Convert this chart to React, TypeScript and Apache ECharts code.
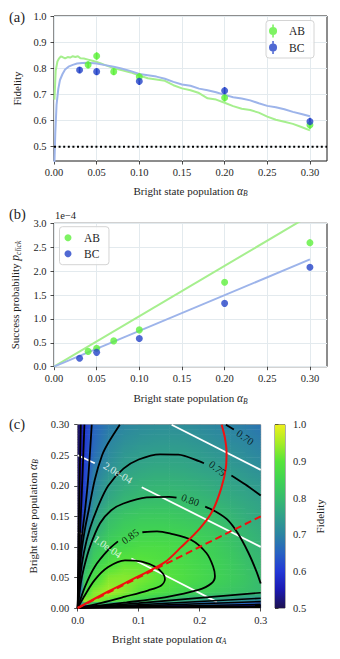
import React, { useEffect, useRef } from 'react';
import * as echarts from 'echarts';

// ---------------- data: panel (a) ----------------
const ALPHA_TICKS = [0, 0.05, 0.1, 0.15, 0.2, 0.25, 0.3];
const FID_TICKS = [0.5, 0.6, 0.7, 0.8, 0.9, 1.0];
const AB_ALPHA = [0.04, 0.05, 0.07, 0.1, 0.2, 0.3];
const AB_FID = [0.813, 0.847, 0.787, 0.767, 0.687, 0.583];
const AB_FID_ERR = [0.013, 0.014, 0.013, 0.014, 0.014, 0.015];
const BC_ALPHA = [0.03, 0.05, 0.1, 0.2, 0.3];
const BC_FID = [0.793, 0.787, 0.75, 0.714, 0.596];
const BC_FID_ERR = [0.012, 0.013, 0.014, 0.014, 0.015];
const AB_THEORY_X = [0.0005, 0.002, 0.004, 0.006, 0.008, 0.01, 0.013, 0.016, 0.019, 0.022, 0.025, 0.028, 0.031, 0.035, 0.04, 0.045, 0.05, 0.055, 0.06, 0.065, 0.07, 0.08, 0.09, 0.1, 0.11, 0.12, 0.13, 0.14, 0.15, 0.16, 0.17, 0.18, 0.19, 0.2, 0.21, 0.22, 0.23, 0.24, 0.25, 0.26, 0.27, 0.28, 0.29, 0.3];
const AB_THEORY_F = [0.68, 0.79, 0.826, 0.838, 0.845, 0.843, 0.838, 0.843, 0.841, 0.846, 0.843, 0.846, 0.838, 0.837, 0.833, 0.829, 0.824, 0.818, 0.812, 0.806, 0.8, 0.792, 0.784, 0.772, 0.762, 0.757, 0.752, 0.735, 0.723, 0.716, 0.705, 0.685, 0.68, 0.668, 0.655, 0.645, 0.64, 0.63, 0.615, 0.603, 0.595, 0.587, 0.575, 0.562];
const BC_THEORY_X = [0.0005, 0.0015, 0.003, 0.005, 0.007, 0.01, 0.013, 0.017, 0.022, 0.027, 0.033, 0.04, 0.05, 0.06, 0.07, 0.08, 0.09, 0.1, 0.11, 0.12, 0.13, 0.14, 0.15, 0.16, 0.17, 0.18, 0.19, 0.2, 0.21, 0.22, 0.23, 0.24, 0.25, 0.26, 0.27, 0.28, 0.29, 0.3];
const BC_THEORY_F = [0.44, 0.55, 0.66, 0.72, 0.755, 0.778, 0.795, 0.806, 0.813, 0.818, 0.82, 0.821, 0.818, 0.812, 0.806, 0.798, 0.789, 0.778, 0.773, 0.768, 0.76, 0.748, 0.738, 0.733, 0.722, 0.716, 0.708, 0.698, 0.689, 0.684, 0.677, 0.666, 0.656, 0.651, 0.643, 0.633, 0.625, 0.616];
const CLASSICAL_LIMIT = 0.5;

// ---------------- data: panel (b) (units of 1e-4) ----------------
const PROB_TICKS = [0, 0.5, 1.0, 1.5, 2.0, 2.5, 3.0];
const AB_PROB = [0.32, 0.385, 0.54, 0.77, 1.765, 2.595];
const BC_PROB = [0.175, 0.3, 0.59, 1.325, 2.08];
const FIT_X = [0, 0.3];
const AB_FIT = [0, 3.165];
const BC_FIT = [0, 2.245];

// ---------------- data: panel (c) ----------------
const MAP_TICKS_X = [0, 0.1, 0.2, 0.3];
const MAP_TICKS_Y = [0, 0.05, 0.1, 0.15, 0.2, 0.25, 0.3];
const CBAR_TICKS = [0.5, 0.6, 0.7, 0.8, 0.9, 1.0];
const GRID_A = [0, 0.01, 0.025, 0.05, 0.075, 0.1, 0.125, 0.15, 0.175, 0.2, 0.225, 0.25, 0.275, 0.3];
const GRID_B = [0, 0.01, 0.025, 0.05, 0.075, 0.1, 0.125, 0.15, 0.175, 0.2, 0.225, 0.25, 0.275, 0.3];
// fidelity, one row per alpha_B value, one column per alpha_A value
const FID_MAP = [
  [0.96, 0.5, 0.5, 0.5, 0.5, 0.5, 0.5, 0.5, 0.5, 0.5, 0.5, 0.5, 0.5, 0.5],
  [0.5, 0.95, 0.93, 0.895, 0.86, 0.83, 0.8, 0.775, 0.755, 0.745, 0.73, 0.72, 0.705, 0.695],
  [0.5, 0.87, 0.93, 0.95, 0.93, 0.9, 0.885, 0.87, 0.853, 0.84, 0.83, 0.82, 0.81, 0.8],
  [0.5, 0.815, 0.87, 0.925, 0.93, 0.925, 0.91, 0.895, 0.88, 0.865, 0.85, 0.835, 0.82, 0.8],
  [0.5, 0.775, 0.835, 0.875, 0.903, 0.902, 0.89, 0.88, 0.87, 0.858, 0.845, 0.83, 0.81, 0.795],
  [0.5, 0.735, 0.81, 0.845, 0.865, 0.875, 0.877, 0.872, 0.862, 0.85, 0.837, 0.82, 0.8, 0.785],
  [0.5, 0.69, 0.77, 0.82, 0.84, 0.849, 0.85, 0.848, 0.843, 0.835, 0.823, 0.808, 0.792, 0.778],
  [0.5, 0.64, 0.74, 0.8, 0.82, 0.828, 0.83, 0.828, 0.822, 0.815, 0.805, 0.79, 0.775, 0.762],
  [0.5, 0.62, 0.72, 0.765, 0.79, 0.801, 0.805, 0.805, 0.802, 0.795, 0.785, 0.773, 0.762, 0.753],
  [0.5, 0.61, 0.697, 0.75, 0.77, 0.782, 0.787, 0.787, 0.783, 0.777, 0.768, 0.758, 0.75, 0.74],
  [0.5, 0.605, 0.685, 0.725, 0.752, 0.762, 0.768, 0.768, 0.765, 0.758, 0.752, 0.743, 0.733, 0.722],
  [0.5, 0.6, 0.665, 0.71, 0.735, 0.745, 0.75, 0.751, 0.75, 0.743, 0.735, 0.727, 0.716, 0.705],
  [0.5, 0.595, 0.655, 0.698, 0.718, 0.728, 0.733, 0.735, 0.733, 0.726, 0.717, 0.71, 0.702, 0.69],
  [0.5, 0.595, 0.652, 0.685, 0.702, 0.712, 0.717, 0.718, 0.716, 0.71, 0.703, 0.698, 0.688, 0.676],
];
// fidelity contour lines, [alpha_A, alpha_B] points
const F090 = [[0, 0], [0.01, 0.018], [0.028, 0.046], [0.05, 0.067], [0.0775, 0.078], [0.105, 0.076], [0.128, 0.067], [0.14, 0.056], [0.143, 0.047], [0.137, 0.037], [0.116, 0.029], [0.0775, 0.0185], [0.039, 0.0085], [0, 0]];
const F085_A = [[0, 0], [0.012, 0.035], [0.028, 0.0676], [0.05, 0.095], [0.066, 0.109]];
const F085_B = [[0.106, 0.124], [0.13, 0.1255], [0.151, 0.122], [0.187, 0.111], [0.211, 0.09], [0.222, 0.068], [0.225, 0.052], [0.219, 0.04], [0.198, 0.0295], [0.143, 0.0175], [0.08, 0.0092], [0, 0]];
const F080_A = [[0, 0], [0.005, 0.04], [0.01, 0.065], [0.02, 0.1], [0.0366, 0.1386], [0.055, 0.16], [0.075, 0.171], [0.113, 0.181], [0.15, 0.182], [0.162, 0.1805]];
const F080_B = [[0.209, 0.166], [0.226, 0.158], [0.245, 0.145], [0.262, 0.123], [0.28, 0.09], [0.293, 0.06], [0.3, 0.04]];
const F080_LOW = [[0, 0], [0.1, 0.008], [0.2, 0.0165], [0.3, 0.025]];
const F075_A = [[0, 0], [0.004, 0.05], [0.01, 0.09], [0.02, 0.13], [0.035, 0.17], [0.05, 0.2], [0.075, 0.228], [0.1, 0.243], [0.135, 0.2515], [0.165, 0.251], [0.2, 0.24], [0.207, 0.237]];
const F075_B = [[0.252, 0.217], [0.275, 0.202], [0.3, 0.184]];
const F075_LOW = [[0, 0], [0.1, 0.0053], [0.2, 0.0107], [0.3, 0.016]];
const F070_A = [[0, 0], [0.002, 0.04], [0.006, 0.09], [0.012, 0.13], [0.018, 0.16], [0.028, 0.21], [0.04, 0.25], [0.05, 0.27], [0.069, 0.3]];
const F070_B = [[0.243, 0.3], [0.256, 0.292]];
const F070_LOW = [[0, 0], [0.1, 0.0035], [0.2, 0.007], [0.3, 0.0105]];
const F065_A = [[0, 0], [0.002, 0.06], [0.006, 0.11], [0.012, 0.16], [0.017, 0.21], [0.023, 0.3]];
const F065_LOW = [[0, 0], [0.3, 0.006]];
const F060_A = [[0, 0], [0.002, 0.08], [0.005, 0.15], [0.008, 0.22], [0.011, 0.3]];
const F060_LOW = [[0, 0], [0.3, 0.003]];
const F055_A = [[0, 0], [0.002, 0.15], [0.005, 0.3]];
const F055_LOW = [[0, 0], [0.3, 0.0012]];
const FID_CURVED = [F090, F085_A, F085_B, F080_A, F080_B, F075_A, F075_B, F070_A, F070_B, F065_A, F060_A, F055_A];
const FID_STRAIGHT = [F080_LOW, F075_LOW, F070_LOW, F065_LOW, F060_LOW, F055_LOW];
const FID_LABEL_TEXT = ['0.85', '0.80', '0.75', '0.70'];
const FID_LABEL_AT = [[0.086, 0.117], [0.1845, 0.1765], [0.229, 0.228], [0.2745, 0.279]];
const FID_LABEL_ROT = [35, -20, -38, -35];
// success-probability contour lines
const P3E4 = [[0.154, 0.3], [0.3, 0.226]];
const P2E4_A = [[0, 0.25], [0.028, 0.237]];
const P2E4_B = [[0.105, 0.1976], [0.3, 0.1]];
const P1E4_A = [[0, 0.124], [0.007, 0.121]];
const P1E4_B = [[0.088, 0.081], [0.15, 0.05], [0.228, 0.01]];
const PROB_LINES = [P3E4, P2E4_A, P2E4_B, P1E4_A, P1E4_B];
const PROB_LABEL_TEXT = ['2.0e-04', '1.0e-04'];
const PROB_LABEL_AT = [[0.066, 0.221], [0.049, 0.1]];
const PROB_LABEL_ROT = [-31, -35];
// red curves
const OPT_SOLID = [[0, 0], [0.05, 0.027], [0.1, 0.052], [0.143, 0.075], [0.17, 0.1], [0.2, 0.13], [0.22, 0.157], [0.235, 0.195], [0.243, 0.23], [0.244, 0.256], [0.241, 0.28], [0.236, 0.3]];
const OPT_DASHED = [[0, 0], [0.3, 0.15]];

// colormap
const CMAP_V = [0.5, 0.55, 0.6, 0.65, 0.7, 0.75, 0.8, 0.85, 0.9, 0.95, 1.0];
const CMAP_C = ['#1d1250', '#1b19b2', '#2338d6', '#2862c2', '#2c84a2', '#31a08a', '#37bb6e', '#40d352', '#57e43a', '#a6ec26', '#eef01c'];

const SERIF = '"Liberation Serif", "DejaVu Serif", serif';
const TEXT = '#1e1e1e';
const GRIDC = '#e3eaee';
const GREEN = '#5ef03c';
const BLUE = '#2443c8';
const GREEN_L = '#a6ef8e';
const BLUE_L = '#9db4ea';

function hexRgb(h: string) {
  return [parseInt(h.slice(1, 3), 16), parseInt(h.slice(3, 5), 16), parseInt(h.slice(5, 7), 16)];
}
const CMAP_RGB = CMAP_C.map(hexRgb);
function cmap(v: number) {
  if (v <= CMAP_V[0]) return CMAP_C[0];
  if (v >= CMAP_V[CMAP_V.length - 1]) return CMAP_C[CMAP_C.length - 1];
  let k = 0;
  while (v > CMAP_V[k + 1]) k++;
  const t = (v - CMAP_V[k]) / (CMAP_V[k + 1] - CMAP_V[k]);
  const a = CMAP_RGB[k], b = CMAP_RGB[k + 1];
  const c = a.map((x, i) => Math.round(x + (b[i] - x) * t));
  return `rgb(${c[0]},${c[1]},${c[2]})`;
}

const zip = (xs: number[], ys: number[]) => xs.map((x, i) => [x, ys[i]]);
const zip3 = (xs: number[], ys: number[], es: number[]) => xs.map((x, i) => [x, ys[i], es[i]]);

const RICH = {
  t: { fontFamily: SERIF, fontSize: 11, color: TEXT, lineHeight: 14 },
  m: { fontFamily: SERIF, fontSize: 11.5, fontStyle: 'italic', color: TEXT, lineHeight: 14 },
  s: { fontFamily: SERIF, fontSize: 7.5, fontStyle: 'italic', color: TEXT, lineHeight: 7, verticalAlign: 'bottom' },
};
const nameStyle = { fontFamily: SERIF, fontSize: 11, color: TEXT, rich: RICH };
const tickLabel = { fontFamily: SERIF, fontSize: 10.5, color: TEXT };
const tickStyle = (vals: number[]) => ({ show: true, length: 3.5, lineStyle: { color: TEXT, width: 0.8 }, customValues: vals });

const EB_ICON = 'path://M3.3,1.2H4.7V12.8H3.3Z M0.4,7A3.6,3.6,0,1,1,7.6,7A3.6,3.6,0,1,1,0.4,7Z';

function errorBars(xi: number, yi: number, data: number[][], color: string) {
  return {
    type: 'custom', xAxisIndex: xi, yAxisIndex: yi, z: 4, silent: true,
    encode: { x: 0, y: 1 },
    data,
    renderItem: (_p: any, api: any) => {
      const x = api.value(0), y = api.value(1), e = api.value(2);
      const a = api.coord([x, y - e]);
      const b = api.coord([x, y + e]);
      return { type: 'line', shape: { x1: a[0], y1: a[1], x2: b[0], y2: b[1] }, style: { stroke: color, lineWidth: 1.6 } };
    },
  };
}

const CELLS: number[][] = [];
for (let j = 0; j < GRID_B.length - 1; j++) {
  for (let i = 0; i < GRID_A.length - 1; i++) {
    CELLS.push([(GRID_A[i] + GRID_A[i + 1]) / 2, (GRID_B[j] + GRID_B[j + 1]) / 2, i, j]);
  }
}

function heatRender(_p: any, api: any) {
  const i = api.value(2), j = api.value(3);
  const bl = api.coord([GRID_A[i], GRID_B[j]]);
  const tr = api.coord([GRID_A[i + 1], GRID_B[j + 1]]);
  const left = bl[0], right = tr[0], bottom = bl[1], top = tr[1];
  const h = bottom - top;
  const K = Math.max(2, Math.round(h / 2.5));
  const extraW = i < GRID_A.length - 2 ? 0.6 : 0;
  const children: any[] = [];
  for (let k = 0; k < K; k++) {
    const tm = (k + 0.5) / K;
    const vL = FID_MAP[j][i] * (1 - tm) + FID_MAP[j + 1][i] * tm;
    const vR = FID_MAP[j][i + 1] * (1 - tm) + FID_MAP[j + 1][i + 1] * tm;
    const yb = bottom - (k / K) * h;
    const yt = bottom - ((k + 1) / K) * h;
    const extraH = (j < GRID_B.length - 2 || k < K - 1) ? 0.6 : 0;
    children.push({
      type: 'rect',
      shape: { x: left, y: yt - extraH, width: right - left + extraW, height: yb - yt + extraH },
      style: {
        fill: new echarts.graphic.LinearGradient(0, 0, 1, 0, [
          { offset: 0, color: cmap(vL) },
          { offset: 0.5, color: cmap((vL + vR) / 2) },
          { offset: 1, color: cmap(vR) },
        ]),
      },
    });
  }
  return { type: 'group', children };
}

function cbarRender(_p: any, api: any) {
  const a = api.coord([0, CBAR_TICKS[0]]);
  const b = api.coord([1, CBAR_TICKS[CBAR_TICKS.length - 1]]);
  const stops = CMAP_V.map((v, k) => ({ offset: (v - CMAP_V[0]) / (CMAP_V[CMAP_V.length - 1] - CMAP_V[0]), color: CMAP_C[k] }));
  return {
    type: 'rect',
    shape: { x: a[0], y: b[1], width: b[0] - a[0], height: a[1] - b[1] },
    style: { fill: new echarts.graphic.LinearGradient(0, 1, 0, 0, stops) },
  };
}

function mapLine(data: number[][], color: string, width: number, smooth: number | boolean, z: number, type: any = 'solid') {
  return {
    type: 'line', xAxisIndex: 2, yAxisIndex: 2, data, showSymbol: false, symbol: 'none', smooth, z, silent: true,
    lineStyle: { color, width, type },
  };
}

function labelSeries(texts: string[], at: number[][], rots: number[], color: string) {
  return {
    type: 'scatter', xAxisIndex: 2, yAxisIndex: 2, symbolSize: 0, z: 8, silent: true,
    data: at.map((p, k) => ({
      value: p,
      label: { show: true, formatter: texts[k], rotate: rots[k], position: 'inside', color, fontFamily: SERIF, fontSize: 10.5 },
    })),
  };
}

function buildOption() {
  const series: any[] = [];
  // panel (a)
  series.push({ type: 'line', name: 'AB theory', xAxisIndex: 0, yAxisIndex: 0, data: zip(AB_THEORY_X, AB_THEORY_F), symbol: 'none', lineStyle: { color: GREEN_L, width: 2 }, z: 2 });
  series.push({ type: 'line', name: 'BC theory', xAxisIndex: 0, yAxisIndex: 0, data: zip(BC_THEORY_X, BC_THEORY_F), symbol: 'none', lineStyle: { color: BLUE_L, width: 2 }, z: 2 });
  series.push({ type: 'line', name: 'limit', xAxisIndex: 0, yAxisIndex: 0, data: [[0, CLASSICAL_LIMIT], [0.32, CLASSICAL_LIMIT]], symbol: 'none', lineStyle: { color: '#000', width: 2, type: [2, 2.6] }, z: 3 });
  series.push(errorBars(0, 0, zip3(AB_ALPHA, AB_FID, AB_FID_ERR), GREEN));
  series.push(errorBars(0, 0, zip3(BC_ALPHA, BC_FID, BC_FID_ERR), BLUE));
  series.push({ type: 'scatter', name: 'AB', xAxisIndex: 0, yAxisIndex: 0, data: zip(AB_ALPHA, AB_FID), symbolSize: 7, itemStyle: { color: GREEN }, z: 5 });
  series.push({ type: 'scatter', name: 'BC', xAxisIndex: 0, yAxisIndex: 0, data: zip(BC_ALPHA, BC_FID), symbolSize: 7, itemStyle: { color: BLUE }, z: 5 });
  // panel (b)
  series.push({ type: 'line', name: 'AB fit', xAxisIndex: 1, yAxisIndex: 1, data: zip(FIT_X, AB_FIT), symbol: 'none', lineStyle: { color: GREEN_L, width: 2 }, z: 2 });
  series.push({ type: 'line', name: 'BC fit', xAxisIndex: 1, yAxisIndex: 1, data: zip(FIT_X, BC_FIT), symbol: 'none', lineStyle: { color: BLUE_L, width: 2 }, z: 2 });
  series.push({ type: 'scatter', name: 'AB', xAxisIndex: 1, yAxisIndex: 1, data: zip(AB_ALPHA, AB_PROB), symbolSize: 7, itemStyle: { color: GREEN }, z: 5 });
  series.push({ type: 'scatter', name: 'BC', xAxisIndex: 1, yAxisIndex: 1, data: zip(BC_ALPHA, BC_PROB), symbolSize: 7, itemStyle: { color: BLUE }, z: 5 });
  // panel (c)
  series.push({ type: 'custom', xAxisIndex: 2, yAxisIndex: 2, data: CELLS, encode: { x: 0, y: 1 }, renderItem: heatRender, z: 1, silent: true });
  PROB_LINES.forEach((d) => series.push(mapLine(d, '#ffffff', 1.8, false, 3)));
  FID_CURVED.forEach((d) => series.push(mapLine(d, '#000000', 1.8, 0.3, 4)));
  FID_STRAIGHT.forEach((d) => series.push(mapLine(d, '#000000', 1.6, false, 4)));
  series.push(mapLine(OPT_SOLID, '#f01010', 2, 0.3, 6));
  series.push(mapLine(OPT_DASHED, '#f01010', 2, false, 6, [7, 4]));
  series.push(labelSeries(FID_LABEL_TEXT, FID_LABEL_AT, FID_LABEL_ROT, '#000'));
  series.push(labelSeries(PROB_LABEL_TEXT, PROB_LABEL_AT, PROB_LABEL_ROT, '#ffffff'));
  // colorbar
  series.push({ type: 'custom', xAxisIndex: 3, yAxisIndex: 3, data: [[0, CBAR_TICKS[0]]], encode: { x: 0, y: 1 }, renderItem: cbarRender, z: 1, silent: true });

  const xName = (sub: string) => `{t|Bright state population }{m|α}{s|${sub}}`;

  return {
    animation: false,
    backgroundColor: '#ffffff',
    textStyle: { fontFamily: SERIF },
    grid: [
      { left: 54, top: 16, width: 273, height: 145, show: true, borderColor: '#1a1a1a', borderWidth: 1, backgroundColor: 'transparent' },
      { left: 54, top: 223.3, width: 273, height: 143.4, show: true, borderColor: '#1a1a1a', borderWidth: 1, backgroundColor: 'transparent' },
      { left: 77.7, top: 424.7, width: 183, height: 183.3, show: true, borderColor: '#888', borderWidth: 1, backgroundColor: 'transparent' },
      { left: 275, top: 424.7, width: 10, height: 183.3, show: true, borderColor: '#333', borderWidth: 0.8, backgroundColor: 'transparent' },
    ],
    xAxis: [
      {
        gridIndex: 0, type: 'value', min: 0, max: 0.32, axisLine: { show: false }, axisTick: tickStyle(ALPHA_TICKS),
        axisLabel: { ...tickLabel, margin: 6, customValues: ALPHA_TICKS, formatter: (v: number) => v.toFixed(2) },
        splitLine: { show: true, lineStyle: { color: GRIDC, width: 1 } },
        name: xName('B'), nameLocation: 'middle', nameGap: 22.5, nameTextStyle: nameStyle,
      },
      {
        gridIndex: 1, type: 'value', min: 0, max: 0.32, axisLine: { show: false }, axisTick: tickStyle(ALPHA_TICKS),
        axisLabel: { ...tickLabel, margin: 6, customValues: ALPHA_TICKS, formatter: (v: number) => v.toFixed(2) },
        splitLine: { show: true, lineStyle: { color: GRIDC, width: 1 } },
        name: xName('B'), nameLocation: 'middle', nameGap: 24.5, nameTextStyle: nameStyle,
      },
      {
        gridIndex: 2, type: 'value', min: 0, max: 0.3, axisLine: { show: false }, axisTick: tickStyle(MAP_TICKS_X),
        axisLabel: { ...tickLabel, margin: 7, customValues: MAP_TICKS_X, formatter: (v: number) => v.toFixed(1) },
        splitLine: { show: false },
        name: xName('A'), nameLocation: 'middle', nameGap: 23.5, nameTextStyle: nameStyle,
      },
      { gridIndex: 3, type: 'value', min: 0, max: 1, show: false },
    ],
    yAxis: [
      {
        gridIndex: 0, type: 'value', min: 0.445, max: 1.0, axisLine: { show: false }, axisTick: tickStyle(FID_TICKS),
        axisLabel: { ...tickLabel, margin: 7.5, customValues: FID_TICKS, formatter: (v: number) => v.toFixed(1) },
        splitLine: { show: true, lineStyle: { color: GRIDC, width: 1 } },
        name: '{t|Fidelity}', nameLocation: 'middle', nameGap: 30, nameTextStyle: nameStyle,
      },
      {
        gridIndex: 1, type: 'value', min: 0, max: 3.0, axisLine: { show: false }, axisTick: tickStyle(PROB_TICKS),
        axisLabel: { ...tickLabel, margin: 7.5, customValues: PROB_TICKS, formatter: (v: number) => v.toFixed(1) },
        splitLine: { show: true, lineStyle: { color: GRIDC, width: 1 } },
        name: '{t|Success probability }{m|p}{s|click}', nameLocation: 'middle', nameGap: 30, nameTextStyle: nameStyle,
      },
      {
        gridIndex: 2, type: 'value', min: 0, max: 0.3, axisLine: { show: false }, axisTick: tickStyle(MAP_TICKS_Y),
        axisLabel: { ...tickLabel, margin: 8.5, customValues: MAP_TICKS_Y, formatter: (v: number) => v.toFixed(2) },
        splitLine: { show: false },
        name: xName('B'), nameLocation: 'middle', nameGap: 34, nameTextStyle: nameStyle,
      },
      {
        gridIndex: 3, type: 'value', position: 'right', min: 0.5, max: 1.0, axisLine: { show: false }, axisTick: tickStyle(CBAR_TICKS),
        axisLabel: { ...tickLabel, margin: 8, customValues: CBAR_TICKS, formatter: (v: number) => v.toFixed(1) },
        splitLine: { show: false },
        name: '{t|Fidelity}', nameLocation: 'middle', nameGap: 28, nameRotate: 90, nameTextStyle: nameStyle,
      },
    ],
    legend: [
      {
        data: [{ name: 'AB', icon: EB_ICON }, { name: 'BC', icon: EB_ICON }],
        orient: 'vertical', left: 266, top: 20.5, itemWidth: 22, itemHeight: 13, itemGap: 3.5,
        padding: [4, 9, 4, 3], borderColor: '#d4d4d4', borderWidth: 1, borderRadius: 3,
        backgroundColor: 'rgba(255,255,255,0.85)', selectedMode: false,
        textStyle: { fontFamily: SERIF, fontSize: 11.5, color: TEXT },
      },
      {
        data: [{ name: 'AB', icon: 'circle' }, { name: 'BC', icon: 'circle' }],
        orient: 'vertical', left: 59.5, top: 226.7, itemWidth: 22, itemHeight: 7, itemGap: 4,
        padding: [5, 9, 5, 5], borderColor: '#d4d4d4', borderWidth: 1, borderRadius: 3,
        backgroundColor: 'rgba(255,255,255,0.85)', selectedMode: false,
        textStyle: { fontFamily: SERIF, fontSize: 11.5, color: TEXT },
      },
    ],
    graphic: [
      { type: 'text', left: 9, top: 9, style: { text: '(a)', fontFamily: SERIF, fontSize: 14.5, fill: TEXT } },
      { type: 'text', left: 9, top: 206, style: { text: '(b)', fontFamily: SERIF, fontSize: 14.5, fill: TEXT } },
      { type: 'text', left: 9, top: 416, style: { text: '(c)', fontFamily: SERIF, fontSize: 14.5, fill: TEXT } },
      { type: 'text', left: 55, top: 210, style: { text: '1e\u22124', fontFamily: SERIF, fontSize: 10.5, fill: TEXT } },
    ],
    series,
  };
}

export default function App() {
  const ref = useRef<HTMLDivElement>(null);
  useEffect(() => {
    if (!ref.current) return;
    const chart = echarts.init(ref.current, null, { renderer: 'svg' });
    chart.setOption(buildOption() as any);
    return () => chart.dispose();
  }, []);
  return <div ref={ref} style={{ position: 'absolute', left: 0, top: 0, width: 340, height: 659 }} />;
}
